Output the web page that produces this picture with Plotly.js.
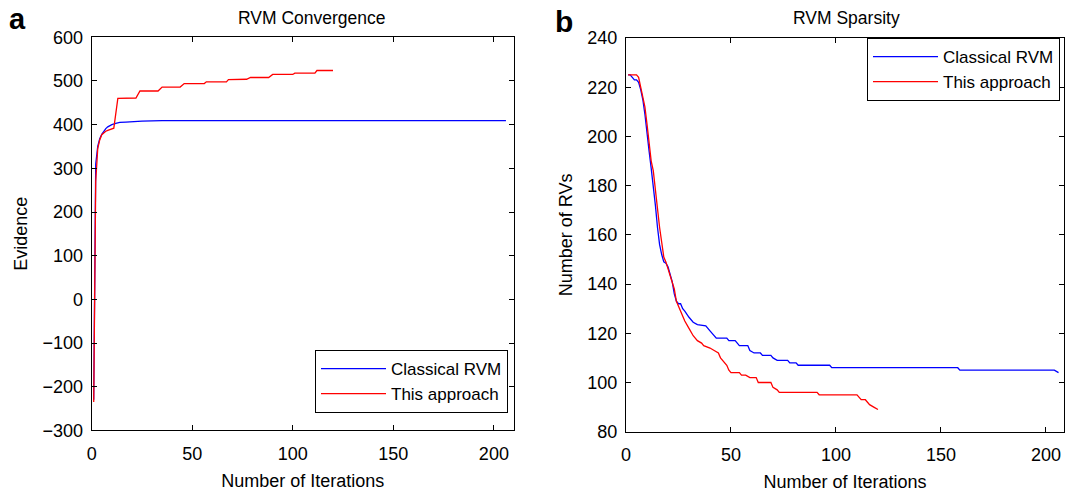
<!DOCTYPE html>
<html><head><meta charset="utf-8">
<script src="https://cdn.plot.ly/plotly-3.0.1.min.js"></script>
<style>html,body{margin:0;padding:0;background:#fff}</style>
</head><body><div id="chart" style="width:1065px;height:496px"></div>
<script>
const seriesNames = ['Classical RVM', 'This approach'];
const panelTitles = ['RVM Convergence', 'RVM Sparsity'];
const panelLetters = ['a', 'b'];
const xTitle = 'Number of Iterations';
const yTitles = ['Evidence', 'Number of RVs'];
const xTicks = [0, 50, 100, 150, 200];
const evidenceTicks = [-300, -200, -100, 0, 100, 200, 300, 400, 500, 600];
const rvTicks = [80, 100, 120, 140, 160, 180, 200, 220, 240];

// Panel a: evidence
const evClassicalIter = [1, 2, 3, 4, 5, 6, 7, 8, 9, 10, 12, 14, 17, 20, 25, 35, 206];
const evClassical = [-230, 310, 350, 368, 378, 386, 391, 395, 398, 400, 403, 405, 406, 407, 408, 409, 409];
const evApproachIter = [1, 2, 3, 4, 5, 6, 7, 8, 9, 10, 11, 13, 22, 24, 33, 35, 44, 46, 56, 57, 67, 68, 77, 79, 88, 90, 100, 101, 111, 112, 120];
const evApproach = [-235, 270, 345, 365, 377, 382, 385, 387, 389, 390, 392, 460, 461, 477, 477, 486, 486, 494, 494, 498, 498, 503, 504, 508, 508, 515, 515, 518, 518, 524, 524];

// Panel b: number of relevance vectors
const rvClassicalIter = [1, 2, 3, 4, 5, 6, 7, 8, 9, 10, 11, 12, 13, 14, 15, 16, 17, 18, 19, 20, 21, 22, 23, 24, 25, 26, 27, 28, 30, 32, 34, 38, 40, 43, 48, 49, 52, 54, 58, 59, 61, 64, 65, 69, 70, 72, 77, 78, 81, 82, 97, 98, 158, 159, 204, 206];
const rvClassical = [225, 225, 224, 223, 223, 222, 219, 215, 209, 200, 194, 187, 180, 172, 163, 156, 152, 149, 148.5, 147, 144, 141, 136, 133, 132, 132, 130, 129, 126.5, 124.5, 123.5, 123, 121, 118, 118, 117, 117, 115, 115, 113, 112, 112, 111, 111, 110, 109, 109, 108, 108, 107, 107, 106, 106, 105, 105, 104];
const rvApproachIter = [1, 5, 6, 7, 8, 9, 10, 11, 12, 13, 14, 15, 16, 17, 18, 19, 20, 21, 22, 23, 24, 25, 26, 27, 28, 30, 32, 34, 36, 37, 40, 42, 44, 45, 47, 48, 49, 50, 54, 55, 57, 59, 62, 63, 69, 70, 72, 73, 91, 92, 110, 112, 114, 115, 116, 118, 120];
const rvApproach = [225, 225, 224, 220, 216, 212, 205, 196, 190, 186, 178, 171, 163, 157, 151, 149, 146, 144, 141, 138, 133, 131, 129, 127, 125, 122, 119, 117, 116, 115, 114, 113, 112, 110, 108, 107, 105, 104, 104, 103, 103, 102, 102, 100, 100, 98, 97, 96, 96, 95, 95, 93, 93, 92, 91, 90, 89];

const FONT = 'Liberation Sans, Arial, Helvetica, sans-serif';
const W = 1065, H = 496;
const px = v => v / W, py = v => 1 - v / H;

const lineStyle = c => ({color: c, width: 1.3});
const traces = [
  {x: evClassicalIter, y: evClassical, name: seriesNames[0], mode: 'lines', line: lineStyle('#0000ff'), xaxis: 'x', yaxis: 'y', legend: 'legend'},
  {x: evApproachIter, y: evApproach, name: seriesNames[1], mode: 'lines', line: lineStyle('#ff0000'), xaxis: 'x', yaxis: 'y', legend: 'legend'},
  {x: rvClassicalIter, y: rvClassical, name: seriesNames[0], mode: 'lines', line: lineStyle('#0000ff'), xaxis: 'x2', yaxis: 'y2', legend: 'legend2'},
  {x: rvApproachIter, y: rvApproach, name: seriesNames[1], mode: 'lines', line: lineStyle('#ff0000'), xaxis: 'x2', yaxis: 'y2', legend: 'legend2'}
];

const axBase = {
  showgrid: false, zeroline: false, showline: true, mirror: 'ticks',
  linecolor: '#000', linewidth: 1, ticks: 'inside', ticklen: 5, tickcolor: '#000',
  tickfont: {family: FONT, size: 18, color: '#000'}, automargin: false
};
const titleFont = {family: FONT, size: 18, color: '#000'};

const legendBase = {
  bgcolor: '#fff', bordercolor: '#000', borderwidth: 1,
  font: {family: FONT, size: 17, color: '#000'}, traceorder: 'normal',
  tracegroupgap: 0, itemwidth: 65
};

const layout = {
  width: W, height: H,
  margin: {l: 0, r: 0, t: 0, b: 0},
  paper_bgcolor: '#fff', plot_bgcolor: '#fff',
  font: {family: FONT, color: '#000'},
  xaxis: Object.assign({}, axBase, {domain: [px(91.7), px(514)], range: [0, 210], tickvals: xTicks, anchor: 'y', ticklabelstandoff: 7,
    title: {text: xTitle, font: titleFont, standoff: 11}}),
  yaxis: Object.assign({}, axBase, {domain: [py(430.4), py(37.3)], range: [-300, 600], tickvals: evidenceTicks, anchor: 'x', ticklabelstandoff: 4,
    title: {text: yTitles[0], font: titleFont, standoff: 10}}),
  xaxis2: Object.assign({}, axBase, {domain: [px(626), px(1064)], range: [0, 208.6], tickvals: xTicks, anchor: 'y2', ticklabelstandoff: 7,
    title: {text: xTitle, font: titleFont, standoff: 11}}),
  yaxis2: Object.assign({}, axBase, {domain: [py(431.7), py(38)], range: [80, 240], tickvals: rvTicks, anchor: 'x2', ticklabelstandoff: 4,
    title: {text: yTitles[1], font: titleFont, standoff: 10}}),
  legend: Object.assign({}, legendBase, {x: px(508), xanchor: 'right', y: py(413), yanchor: 'bottom'}),
  legend2: Object.assign({}, legendBase, {x: px(1060), xanchor: 'right', y: py(38), yanchor: 'top'}),
  annotations: [
    {text: panelTitles[0], xref: 'paper', yref: 'paper', x: px(312), y: py(18), xanchor: 'center', yanchor: 'middle', showarrow: false, font: {family: FONT, size: 17.5, color: '#000'}},
    {text: panelTitles[1], xref: 'paper', yref: 'paper', x: px(846), y: py(18), xanchor: 'center', yanchor: 'middle', showarrow: false, font: {family: FONT, size: 17.5, color: '#000'}},
    {text: '<b>' + panelLetters[0] + '</b>', xref: 'paper', yref: 'paper', x: px(18), y: py(19.5), xanchor: 'center', yanchor: 'middle', showarrow: false, font: {family: FONT, size: 29, color: '#000'}},
    {text: '<b>' + panelLetters[1] + '</b>', xref: 'paper', yref: 'paper', x: px(564), y: py(22), xanchor: 'center', yanchor: 'middle', showarrow: false, font: {family: FONT, size: 30, color: '#000'}}
  ],
  showlegend: true
};

Plotly.newPlot('chart', traces, layout, {displayModeBar: false, staticPlot: true});
</script>
</body></html>
